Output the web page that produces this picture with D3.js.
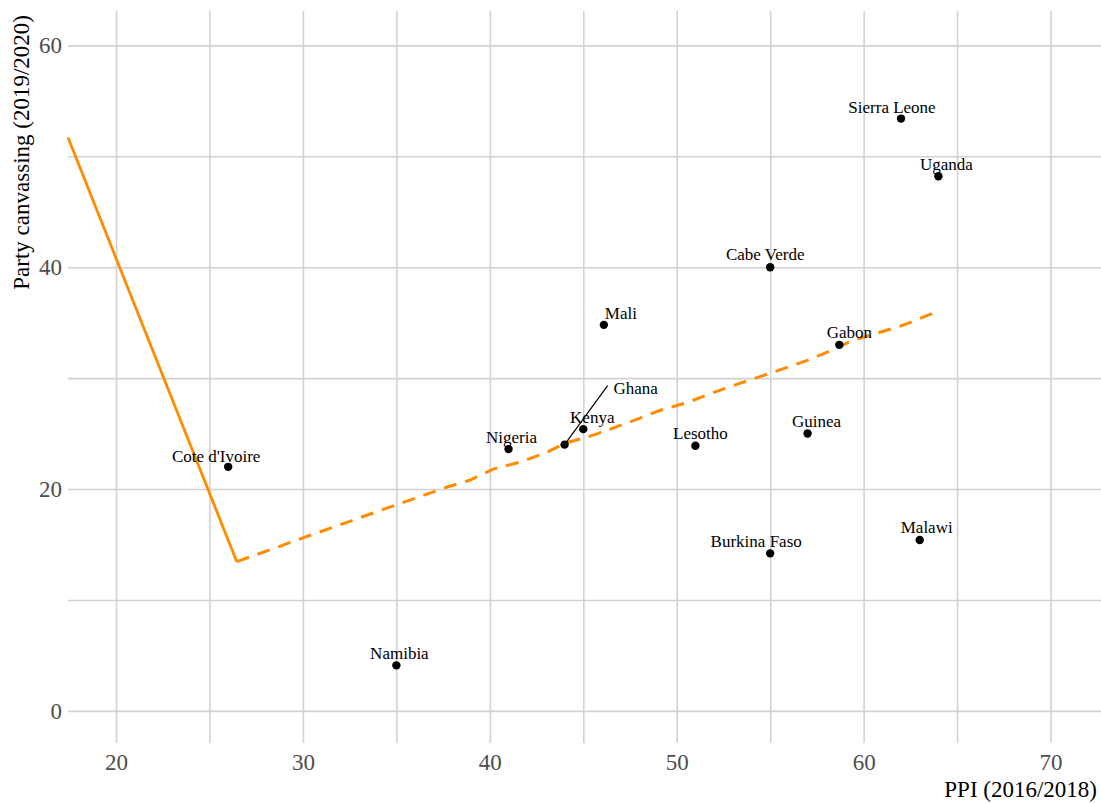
<!DOCTYPE html>
<html>
<head>
<meta charset="utf-8">
<script src="https://cdn.jsdelivr.net/npm/d3@7"></script>
<style>
  html, body { margin: 0; padding: 0; background: #ffffff; }
  svg { display: block; }
</style>
</head>
<body>
<svg id="chart" width="1101" height="803"></svg>
<script>
// Country scores: PPI (2016/2018) against party canvassing (2019/2020)
const countries  = ["Sierra Leone", "Uganda", "Cabe Verde", "Mali", "Gabon", "Ghana", "Kenya",
                    "Nigeria", "Lesotho", "Guinea", "Cote d'Ivoire", "Burkina Faso", "Malawi", "Namibia"];
const ppi        = [62, 64, 55, 46.1, 58.7, 44, 45, 41, 51, 57, 26, 55, 63, 35];
const canvassing = [53.4, 48.2, 40, 34.8, 33, 24, 25.4, 23.6, 23.9, 25, 22, 14.2, 15.4, 4.1];

// Fitted trend: solid part below the threshold, dashed part above it
const solidX = [17.43, 26.46];
const solidY = [51.7, 13.45];
const dashX  = [26.46, 29.85, 33.76, 37.72, 38.95, 40.18, 41.63, 43.07, 44.04, 45.37, 46.61,
                47.89, 49.12, 50.57, 51.8, 53.4, 55.01, 56.99, 58.06, 59.45, 61.97, 63.74];
const dashY  = [13.45, 15.5, 17.84, 20.18, 20.81, 21.8, 22.43, 23.33, 24.14, 24.77, 25.5,
                26.3, 27.1, 27.8, 28.6, 29.55, 30.45, 31.6, 32.34, 33.42, 34.68, 35.86];

// Axis ticks and grid breaks
const xTickLabels = [20, 30, 40, 50, 60, 70];
const xGridBreaks = [20, 25, 30, 35, 40, 45, 50, 55, 60, 65, 70];
const yTickLabels = [0, 20, 40, 60];
const yGridBreaks = [0, 10, 20, 30, 40, 50, 60];

// Label nudges (pixels) so names sit clear of their points
const labelNudge = {
  "Sierra Leone": [-9, -6], "Uganda": [8, -6], "Cabe Verde": [-5, -7], "Mali": [17, -6],
  "Gabon": [10, -7], "Ghana": [71, -51], "Kenya": [9, -6], "Nigeria": [3, -6],
  "Lesotho": [5, -7], "Guinea": [9, -7], "Cote d'Ivoire": [-12, -5], "Burkina Faso": [-14, -6],
  "Malawi": [7, -7], "Namibia": [3, -6]
};
const leaderLines = { "Ghana": [43, -59] };

const svg = d3.select("#chart");
const panel = { left: 68, right: 1101, top: 11, bottom: 743 };

const x = d3.scaleLinear().domain([17.43, 72.7]).range([panel.left, panel.right]);
const y = d3.scaleLinear().domain([-2.9, 63.1]).range([panel.bottom, panel.top]);

const gridColor = "#d2d2d2";
const serif = "'Liberation Serif', 'Times New Roman', serif";

// Grid lines
svg.append("g")
  .attr("transform", `translate(0,${panel.bottom})`)
  .call(d3.axisBottom(x).tickValues(xGridBreaks).tickSize(-(panel.bottom - panel.top)).tickFormat(""))
  .call(g => g.select(".domain").remove())
  .call(g => g.selectAll("line").attr("stroke", gridColor).attr("stroke-width", 1.6));

svg.append("g")
  .attr("transform", `translate(${panel.left},0)`)
  .call(d3.axisLeft(y).tickValues(yGridBreaks).tickSize(-(panel.right - panel.left)).tickFormat(""))
  .call(g => g.select(".domain").remove())
  .call(g => g.selectAll("line").attr("stroke", gridColor).attr("stroke-width", 1.6));

// Tick labels
svg.append("g")
  .attr("transform", `translate(0,${panel.bottom})`)
  .call(d3.axisBottom(x).tickValues(xTickLabels).tickSize(0).tickPadding(11))
  .call(g => g.select(".domain").remove())
  .call(g => g.selectAll("text")
    .attr("font-family", serif).attr("font-size", 23).attr("fill", "#4d4d4d"));

svg.append("g")
  .attr("transform", `translate(${panel.left},0)`)
  .call(d3.axisLeft(y).tickValues(yTickLabels).tickSize(0).tickPadding(6))
  .call(g => g.select(".domain").remove())
  .call(g => g.selectAll("text")
    .attr("font-family", serif).attr("font-size", 23).attr("fill", "#4d4d4d"));

// Axis titles
svg.append("text")
  .attr("x", panel.right - 4).attr("y", 797)
  .attr("text-anchor", "end")
  .attr("font-family", serif).attr("font-size", 23).attr("fill", "#000")
  .text("PPI (2016/2018)");

svg.append("text")
  .attr("transform", `translate(29,15) rotate(-90)`)
  .attr("text-anchor", "end")
  .attr("font-family", serif).attr("font-size", 23).attr("fill", "#000")
  .text("Party canvassing (2019/2020)");

// Trend lines
const line = d3.line().x(d => x(d[0])).y(d => y(d[1]));
const orange = "#ff8c00";

svg.append("path")
  .datum(d3.zip(solidX, solidY))
  .attr("d", line)
  .attr("fill", "none").attr("stroke", orange).attr("stroke-width", 2.8);

svg.append("path")
  .datum(d3.zip(dashX, dashY))
  .attr("d", line)
  .attr("fill", "none").attr("stroke", orange).attr("stroke-width", 3)
  .attr("stroke-dasharray", "13,9");

// Points, leader lines and labels
const rows = countries.map((c, i) => ({ name: c, px: ppi[i], pc: canvassing[i] }));

svg.append("g").selectAll("line")
  .data(rows.filter(d => leaderLines[d.name]))
  .join("line")
  .attr("x1", d => x(d.px)).attr("y1", d => y(d.pc))
  .attr("x2", d => x(d.px) + leaderLines[d.name][0])
  .attr("y2", d => y(d.pc) + leaderLines[d.name][1])
  .attr("stroke", "#000").attr("stroke-width", 1.2);

svg.append("g").selectAll("circle")
  .data(rows)
  .join("circle")
  .attr("cx", d => x(d.px)).attr("cy", d => y(d.pc))
  .attr("r", 4.2).attr("fill", "#000");

svg.append("g").selectAll("text")
  .data(rows)
  .join("text")
  .attr("x", d => x(d.px) + labelNudge[d.name][0])
  .attr("y", d => y(d.pc) + labelNudge[d.name][1])
  .attr("text-anchor", "middle")
  .attr("font-family", serif).attr("font-size", 17).attr("fill", "#000")
  .text(d => d.name);
</script>
</body>
</html>
